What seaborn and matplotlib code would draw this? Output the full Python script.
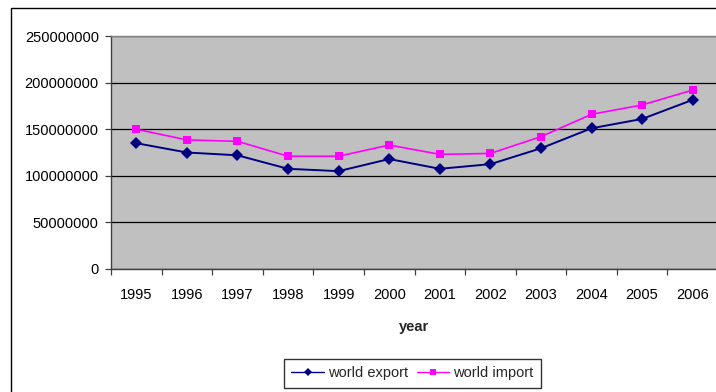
import matplotlib
matplotlib.use("Agg")
import matplotlib.pyplot as plt
import matplotlib.patches as mpatches
import numpy as np
import pandas as pd
import seaborn as sns

years = ["1995", "1996", "1997", "1998", "1999", "2000",
         "2001", "2002", "2003", "2004", "2005", "2006"]
world_export = [135e6, 125e6, 122e6, 107.5e6, 105e6, 118e6,
                107.5e6, 112.5e6, 129.5e6, 151e6, 161e6, 181.5e6]
world_import = [150e6, 138.5e6, 137e6, 121e6, 121e6, 133e6,
                123e6, 124e6, 142e6, 166e6, 176e6, 192e6]
y_ticks = [0, 50000000, 100000000, 150000000, 200000000, 250000000]

sns.set_theme(style="white")
plt.rcParams["font.family"] = ["Liberation Sans", "DejaVu Sans"]
plt.rcParams["font.size"] = 10.5

df = pd.DataFrame({
    "year": years * 2,
    "value": world_export + world_import,
    "series": ["world export"] * len(years) + ["world import"] * len(years),
})

fig = plt.figure(figsize=(7.16, 3.92), dpi=100)
ax = fig.add_axes([111 / 716, 1 - 269 / 392, 607 / 716, 233 / 392])
ax.set_facecolor("#C0C0C0")

# outer chart frame
fig.patches.append(mpatches.Rectangle(
    (10.5 / 716, -0.05), 1.1, 1 - 7.5 / 392 + 0.05,
    transform=fig.transFigure, fill=False, edgecolor="black",
    linewidth=1.0, zorder=0))

sns.lineplot(data=df, x="year", y="value", hue="series", style="series",
             palette={"world export": "#000080", "world import": "#FF00FF"},
             markers={"world export": "D", "world import": "s"},
             dashes=False, markersize=5, linewidth=1.3,
             markeredgewidth=0, ax=ax, legend=False, sort=False)

# per-series marker sizes
for line in ax.lines:
    if line.get_marker() == "D":
        line.set_markersize(6)
        line.set_linewidth(1.4)
    elif line.get_marker() == "s":
        line.set_markersize(5.3)
        line.set_linewidth(1.2)

n = len(years)
ax.set_xlim(-0.5, n - 0.5)
ax.set_ylim(0, 250000000)

ax.set_yticks(y_ticks)
ax.set_yticklabels([str(v) for v in y_ticks])
ax.yaxis.grid(True, color="black", linewidth=0.9)
ax.set_axisbelow(True)

ax.set_xticks(np.arange(n + 1) - 0.5)
ax.set_xticklabels([])
ax.set_xticks(np.arange(n), minor=True)
ax.set_xticklabels(years, minor=True)
ax.tick_params(axis="x", which="major", direction="out", length=4,
               width=0.9, color="#404040", bottom=True)
ax.tick_params(axis="x", which="minor", length=0, pad=14, labelsize=10.5,
               colors="black")
ax.tick_params(axis="y", direction="out", length=4.3, width=0.9,
               color="#404040", pad=4.5, left=True, labelsize=10.5,
               labelcolor="black")

for side in ["left", "bottom"]:
    ax.spines[side].set_color("#404040")
    ax.spines[side].set_linewidth(1.0)
for side in ["top", "right"]:
    ax.spines[side].set_color("#808080")
    ax.spines[side].set_linewidth(1.0)

ax.set_ylabel("")
ax.set_xlabel("year", fontweight="bold", fontsize=10.5, labelpad=13)

handles = [
    plt.Line2D([], [], color="#000080", marker="D", markersize=4.5,
               markeredgewidth=0, linewidth=1.0, label="world export"),
    plt.Line2D([], [], color="#FF00FF", marker="s", markersize=4,
               markeredgewidth=0, linewidth=1.0, label="world import"),
]
leg = fig.legend(handles=handles, loc="center", ncol=2,
                 bbox_to_anchor=(412.5 / 716, 1 - 373.3 / 392),
                 frameon=True, fancybox=False, edgecolor="black",
                 handlelength=2.2, handletextpad=0.3, columnspacing=0.6,
                 borderpad=0.5, fontsize=10.5, numpoints=1)
leg.get_frame().set_linewidth(1.0)

fig.savefig("out.png", dpi=100, facecolor="white")
